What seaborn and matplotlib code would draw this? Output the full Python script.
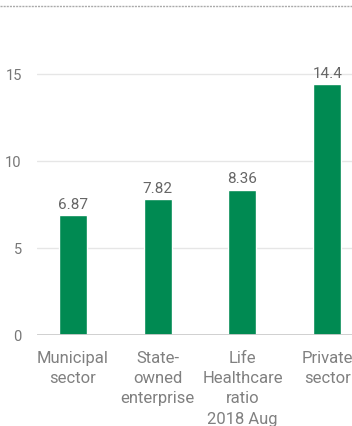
import matplotlib
matplotlib.use("Agg")
import matplotlib.pyplot as plt
from matplotlib.lines import Line2D
import seaborn as sns
import pandas as pd

categories = ["Municipal\nsector", "State-\nowned\nenterprise", "Life\nHealthcare\nratio\n2018 Aug", "Private\nsector"]
values = [6.87, 7.82, 8.36, 14.4]
value_labels = ["6.87", "7.82", "8.36", "14.4"]
yticks = [0, 5, 10, 15]

sns.set_theme(style="white")
plt.rcParams['font.family'] = ['Roboto', 'DejaVu Sans']

df = pd.DataFrame({"cat": categories, "val": values})

fig = plt.figure(figsize=(3.52, 4.27), dpi=100)
ax = fig.add_axes([37/352, 91/427, 1 - 37/352, (336-60)/427])
sns.barplot(data=df, x="cat", y="val", color="#008a52", width=0.33, ax=ax, saturation=1)

ax.set_ylim(0, 15.86)
ax.set_xlim(-0.42, 3.29)
ax.set_yticks(yticks)
ax.set_yticklabels([str(t) for t in yticks])
ax.grid(axis="y", color="#e6e6e6", linewidth=1)
ax.set_axisbelow(True)
for s in ["top", "right", "left", "bottom"]:
    ax.spines[s].set_visible(False)
ax.axhline(0, color="#cccccc", linewidth=2, zorder=3)
ax.set_xlabel("")
ax.set_ylabel("")
ax.tick_params(axis="both", length=0)
ax.tick_params(axis="x", pad=10.5, labelsize=12, colors="#808080")
ax.tick_params(axis="y", pad=11, labelsize=10.5, colors="#777777")
for lab in ax.get_xticklabels():
    lab.set_linespacing(1.45)

for i, (v, t) in enumerate(zip(values, value_labels)):
    ax.annotate(t, (i, v), xytext=(0, 3), textcoords="offset points",
                ha="center", va="bottom", color="#666666", fontsize=11)

fig.add_artist(Line2D([0, 1], [1 - 7/427, 1 - 7/427], transform=fig.transFigure,
                      color="#aaaaaa", linewidth=1, linestyle=(0, (1.5, 0.75))))

fig.savefig("out.png", dpi=100)
